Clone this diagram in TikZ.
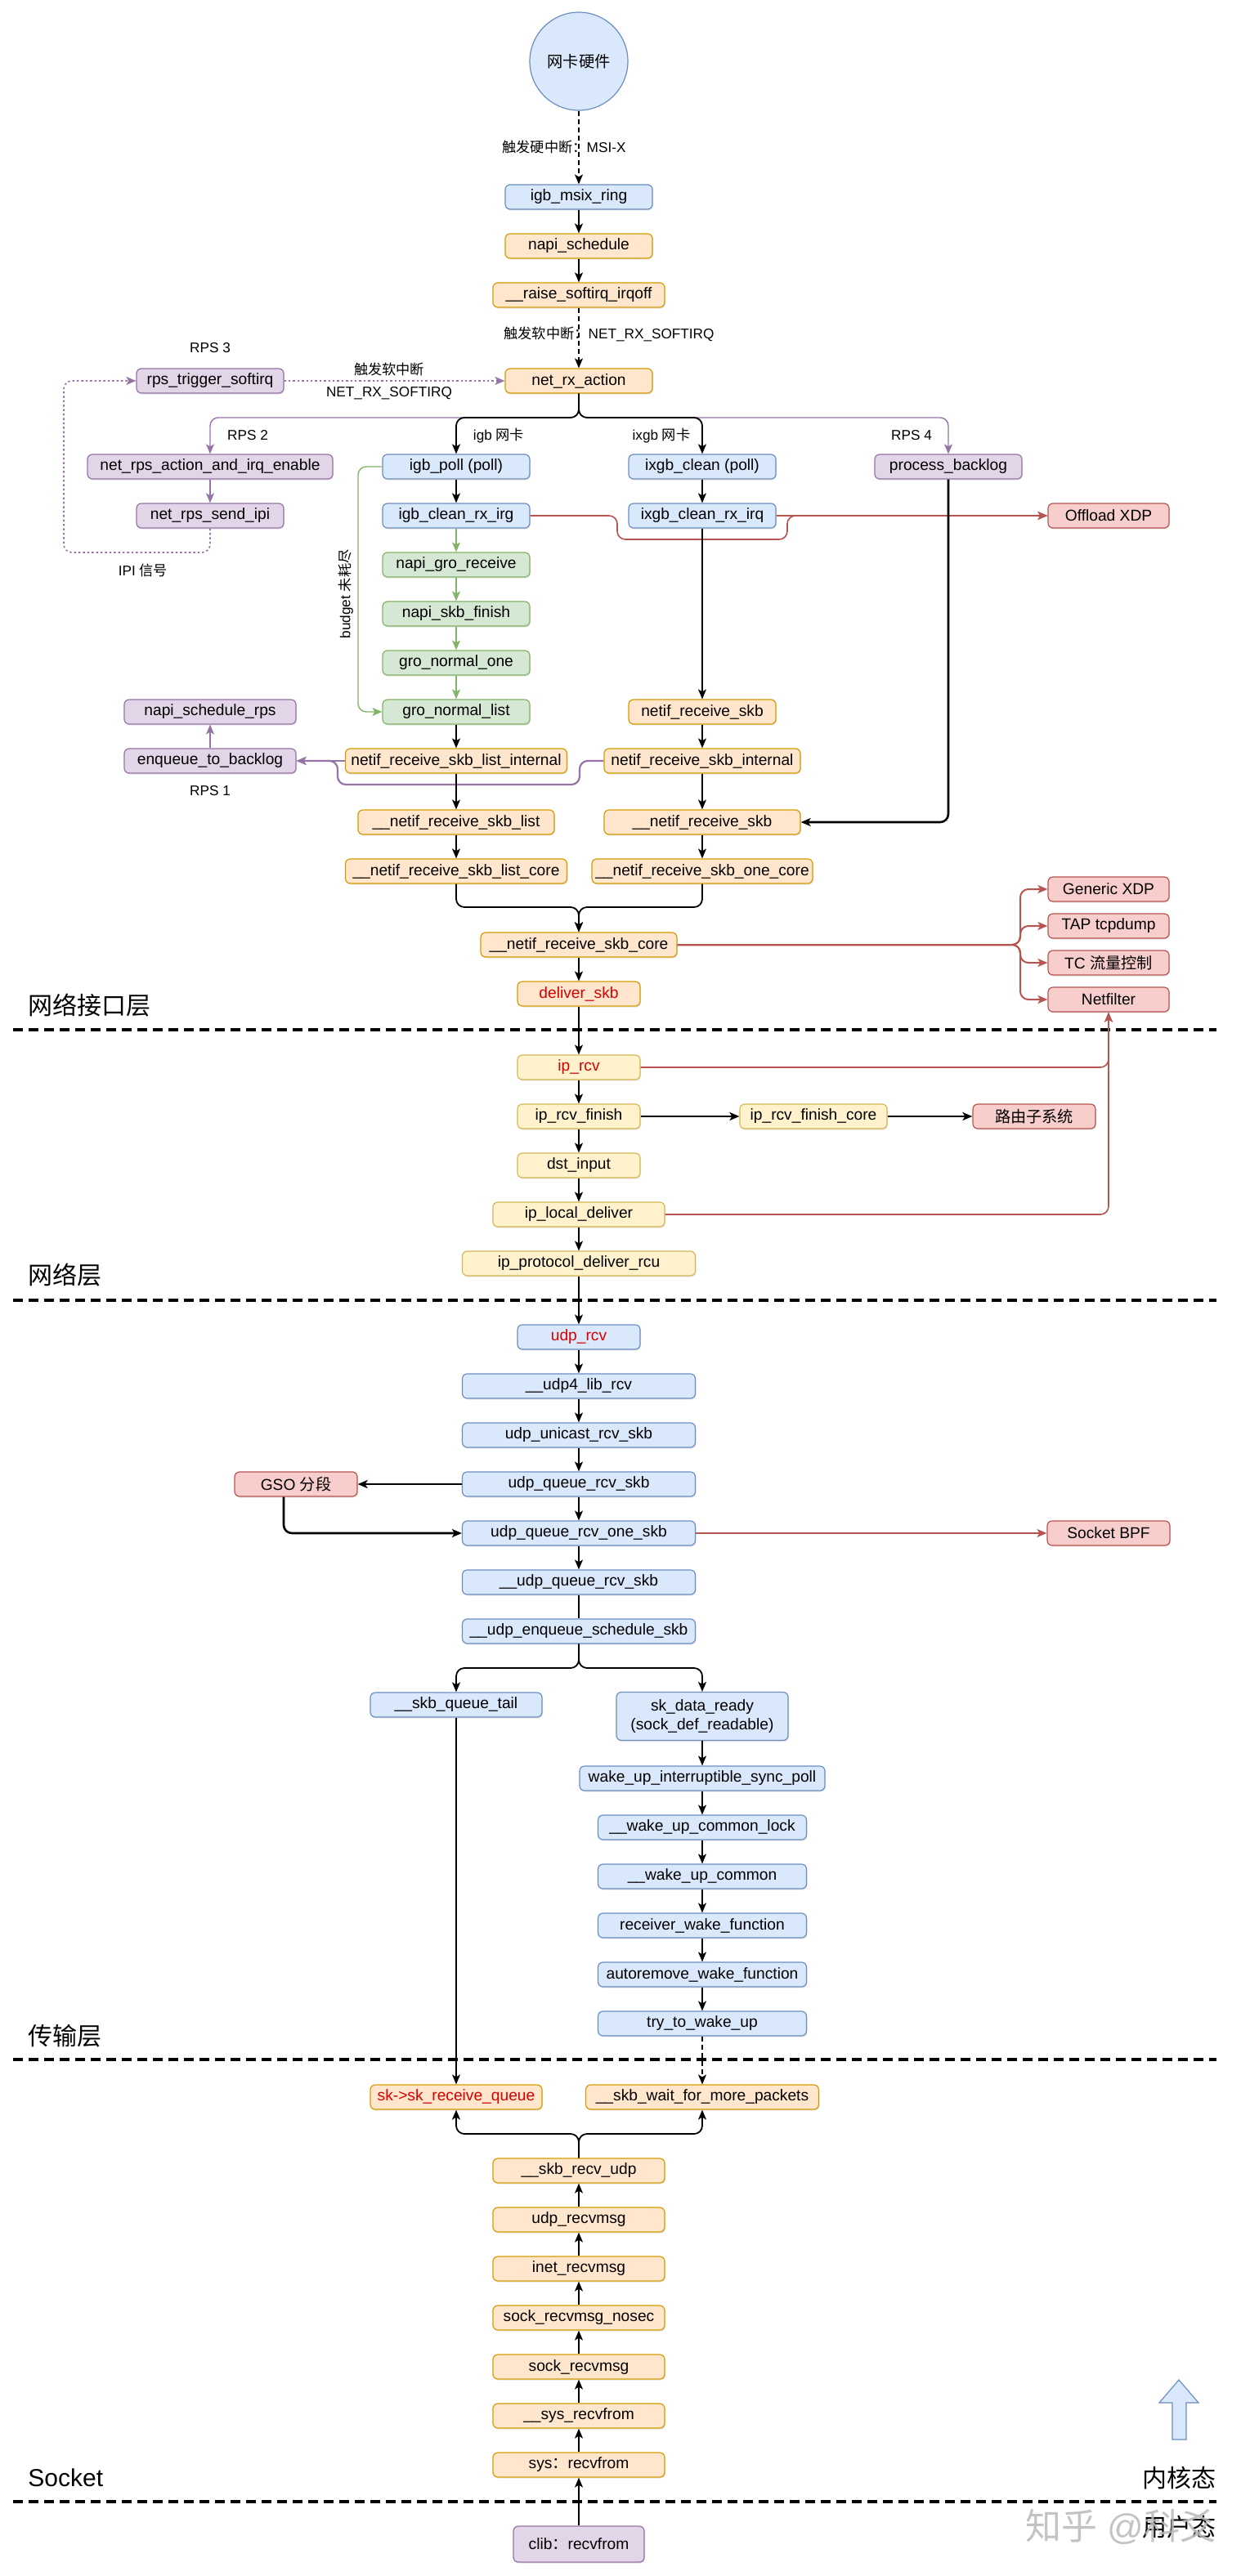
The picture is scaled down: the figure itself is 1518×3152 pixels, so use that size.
\documentclass[tikz,border=0pt]{standalone}
\usepackage{fontspec}
\setmainfont{Liberation Sans}
\newfontfamily\cjk{Noto Sans CJK SC}
\usetikzlibrary{arrows.meta,shadows}
\definecolor{bF}{HTML}{DAE8FC}\definecolor{bD}{HTML}{6C8EBF}
\definecolor{oF}{HTML}{FFE6CC}\definecolor{oD}{HTML}{D79B00}
\definecolor{yF}{HTML}{FFF2CC}\definecolor{yD}{HTML}{D6B656}
\definecolor{gF}{HTML}{D5E8D4}\definecolor{gD}{HTML}{82B366}
\definecolor{pF}{HTML}{E1D5E7}\definecolor{pD}{HTML}{9673A6}
\definecolor{rF}{HTML}{F8CECC}\definecolor{rD}{HTML}{B85450}
\definecolor{rT}{HTML}{D80000}
\begin{document}
\begin{tikzpicture}[x=0.5pt,y=-0.5pt,
  >={Stealth[length=6pt,width=5pt,inset=1.5pt]},
  box/.style={rounded corners=3pt, minimum height=15pt, inner sep=0pt, line width=0.6pt,
    font=\fontsize{9.6}{11.5}\selectfont,
    drop shadow={shadow xshift=0.5pt,shadow yshift=-0.8pt,opacity=0.2}},
  wd/.style={minimum width=#1*0.5pt},
  bl/.style={box, fill=bF, draw=bD},
  or/.style={box, fill=oF, draw=oD},
  ye/.style={box, fill=yF, draw=yD},
  gr/.style={box, fill=gF, draw=gD},
  pu/.style={box, fill=pF, draw=pD},
  rd/.style={box, fill=rF, draw=rD},
  rtxt/.style={text=rT},
  lbl/.style={inner sep=0pt, font=\fontsize{8.6}{10.5}\selectfont, align=center},
  layer/.style={inner sep=0pt, anchor=west, font=\fontsize{15}{18}\selectfont},
  ar/.style={->, line width=0.7pt},
  ln/.style={line width=0.7pt},
  thk/.style={->, line width=1.3pt},
  grn/.style={->, draw=gD, line width=0.7pt},
  pur/.style={->, draw=pD, line width=0.7pt},
  purthk/.style={->, draw=pD, line width=1.1pt},
  redl/.style={->, draw=rD, line width=0.8pt},
  dsh/.style={->, line width=0.6pt, dash pattern=on 3pt off 2pt},
  dotp/.style={->, draw=pD, line width=0.8pt, dash pattern=on 1.2pt off 1.5pt},
  layersep/.style={line width=2pt, dash pattern=on 6pt off 3.5pt}
]
\useasboundingbox[fill=white] (0,0) rectangle (1518,3152);

% ---------------- nodes ----------------
\node[circle, fill=bF, draw=bD, line width=0.6pt, minimum size=60pt, inner sep=0pt,
      font=\fontsize{9.6}{11.5}\selectfont] (hw) at (708,75) {\cjk 网卡硬件};
\node[bl, wd=180] (msix) at (708,241) {igb\_msix\_ring};
\node[or, wd=180] (napisch) at (708,301) {napi\_schedule};
\node[or, wd=210] (raise) at (708,361) {\_\_raise\_softirq\_irqoff};
\node[or, wd=180] (netrx) at (708,466) {net\_rx\_action};
\node[pu, wd=180] (rpstrig) at (257,466) {rps\_trigger\_softirq};
\node[pu, wd=300] (rpsact) at (257,571) {net\_rps\_action\_and\_irq\_enable};
\node[bl, wd=180] (igbpoll) at (558,571) {igb\_poll (poll)};
\node[bl, wd=180] (ixgbclean) at (859,571) {ixgb\_clean (poll)};
\node[pu, wd=180] (backlog) at (1160,571) {process\_backlog};
\node[pu, wd=180] (sendipi) at (257,631) {net\_rps\_send\_ipi};
\node[bl, wd=180] (igbclean) at (558,631) {igb\_clean\_rx\_irg};
\node[bl, wd=180] (ixgbirq) at (859,631) {ixgb\_clean\_rx\_irq};
\node[rd, wd=148] (offload) at (1356,631) {Offload XDP};
\node[gr, wd=180] (grorecv) at (558,691) {napi\_gro\_receive};
\node[gr, wd=180] (skbfin) at (558,751) {napi\_skb\_finish};
\node[gr, wd=180] (groone) at (558,811) {gro\_normal\_one};
\node[gr, wd=180] (grolist) at (558,871) {gro\_normal\_list};
\node[or, wd=180] (nrs) at (859,871) {netif\_receive\_skb};
\node[pu, wd=210] (schrps) at (257,871) {napi\_schedule\_rps};
\node[pu, wd=210] (enq) at (257,931) {enqueue\_to\_backlog};
\node[or, wd=271] (nrsli) at (558,931) {netif\_receive\_skb\_list\_internal};
\node[or, wd=240] (nrsi) at (859,931) {netif\_receive\_skb\_internal};
\node[or, wd=240] (nrsl) at (558,1006) {\_\_netif\_receive\_skb\_list};
\node[or, wd=240] (nrsb) at (859,1006) {\_\_netif\_receive\_skb};
\node[or, wd=271] (nrslc) at (558,1066) {\_\_netif\_receive\_skb\_list\_core};
\node[or, wd=270] (nrsoc) at (859,1066) {\_\_netif\_receive\_skb\_one\_core};
\node[or, wd=240] (core) at (708,1156) {\_\_netif\_receive\_skb\_core};
\node[rd, wd=148] (gxdp) at (1356,1088) {Generic XDP};
\node[rd, wd=148] (tap) at (1356,1133) {TAP tcpdump};
\node[rd, wd=148] (tc) at (1356,1178) {TC {\cjk 流量控制}};
\node[rd, wd=148] (nf) at (1356,1223) {Netfilter};
\node[or, wd=150, rtxt] (deliver) at (708,1216) {deliver\_skb};
\node[ye, wd=150, rtxt] (iprcv) at (708,1306) {ip\_rcv};
\node[ye, wd=150] (iprf) at (708,1366) {ip\_rcv\_finish};
\node[ye, wd=180] (iprfc) at (995,1366) {ip\_rcv\_finish\_core};
\node[rd, wd=150] (route) at (1265,1366) {\cjk 路由子系统};
\node[ye, wd=150] (dst) at (708,1426) {dst\_input};
\node[ye, wd=210] (ild) at (708,1486) {ip\_local\_deliver};
\node[ye, wd=285] (ipd) at (708,1546) {ip\_protocol\_deliver\_rcu};
\node[bl, wd=150, rtxt] (udprcv) at (708,1636) {udp\_rcv};
\node[bl, wd=285] (u4) at (708,1696) {\_\_udp4\_lib\_rcv};
\node[bl, wd=285] (uni) at (708,1756) {udp\_unicast\_rcv\_skb};
\node[bl, wd=285] (uq) at (708,1816) {udp\_queue\_rcv\_skb};
\node[rd, wd=150] (gso) at (362,1816) {GSO {\cjk 分段}};
\node[bl, wd=285] (uqo) at (708,1876) {udp\_queue\_rcv\_one\_skb};
\node[rd, wd=150] (bpf) at (1356,1876) {Socket BPF};
\node[bl, wd=285] (uuq) at (708,1936) {\_\_udp\_queue\_rcv\_skb};
\node[bl, wd=285] (ues) at (708,1996) {\_\_udp\_enqueue\_schedule\_skb};
\node[bl, wd=210] (sqt) at (558,2086) {\_\_skb\_queue\_tail};
\node[bl, wd=210, minimum height=29.5pt, align=center] (sdr) at (859,2100) {sk\_data\_ready\\(sock\_def\_readable)};
\node[bl, wd=300] (wuisp) at (859,2176) {wake\_up\_interruptible\_sync\_poll};
\node[bl, wd=255] (wucl) at (859,2236) {\_\_wake\_up\_common\_lock};
\node[bl, wd=255] (wuc) at (859,2296) {\_\_wake\_up\_common};
\node[bl, wd=255] (rwf) at (859,2356) {receiver\_wake\_function};
\node[bl, wd=255] (awf) at (859,2416) {autoremove\_wake\_function};
\node[bl, wd=255] (ttwu) at (859,2476) {try\_to\_wake\_up};
\node[or, wd=210, rtxt] (skrq) at (558,2566) {sk->sk\_receive\_queue};
\node[or, wd=285] (swfmp) at (859,2566) {\_\_skb\_wait\_for\_more\_packets};
\node[or, wd=210] (sru) at (708,2656) {\_\_skb\_recv\_udp};
\node[or, wd=210] (urm) at (708,2716) {udp\_recvmsg};
\node[or, wd=210] (irm) at (708,2776) {inet\_recvmsg};
\node[or, wd=210] (srmn) at (708,2836) {sock\_recvmsg\_nosec};
\node[or, wd=210] (srm) at (708,2896) {sock\_recvmsg};
\node[or, wd=210] (sysrf) at (708,2956) {\_\_sys\_recvfrom};
\node[or, wd=210] (sysr) at (708,3016) {sys{\cjk ：}recvfrom};
\node[pu, wd=160, minimum height=22pt] (clib) at (708,3113) {clib{\cjk ：}recvfrom};

% ---------------- labels ----------------
\node[lbl] (l1) at (690,180) {{\cjk 触发硬中断：}MSI-X};
\node[lbl] (l2) at (745,409) {{\cjk 触发软中断：}NET\_RX\_SOFTIRQ};
\node[lbl] (l3) at (476,466) {{\cjk 触发软中断}\\[3pt]NET\_RX\_SOFTIRQ};
\node[lbl] (l4) at (257,426) {RPS 3};
\node[lbl] (l5) at (303,533) {RPS 2};
\node[lbl] (l6) at (610,533) {igb {\cjk 网卡}};
\node[lbl] (l7) at (809,533) {ixgb {\cjk 网卡}};
\node[lbl] (l8) at (1115,533) {RPS 4};
\node[lbl] (l9) at (175,698) {IPI {\cjk 信号}};
\node[lbl] (l10) at (257,968) {RPS 1};
\node[lbl, rotate=90] (l11) at (423,727) {budget {\cjk 未耗尽}};

\node[layer] (L1) at (34,1230) {\cjk 网络接口层};
\node[layer] (L2) at (34,1560) {\cjk 网络层};
\node[layer] (L3) at (34,2491) {\cjk 传输层};
\node[layer] (L4) at (34,3032) {Socket};
\node[layer, anchor=east] (L5) at (1488,3032) {\cjk 内核态};
\node[layer, anchor=east] (L6) at (1488,3092) {\cjk 用户态};

% layer separators
\coordinate (s1a) at (16,1260); \coordinate (s1b) at (1488,1260);
\coordinate (s2a) at (16,1591); \coordinate (s2b) at (1488,1591);
\coordinate (s3a) at (16,2520); \coordinate (s3b) at (1488,2520);
\coordinate (s4a) at (16,3061); \coordinate (s4b) at (1488,3061);
\draw[layersep] (s1a) -- (s1b);
\draw[layersep] (s2a) -- (s2b);
\draw[layersep] (s3a) -- (s3b);
\draw[layersep] (s4a) -- (s4b);

% kernel-mode block arrow
\draw[fill=bF, draw=bD, line width=0.6pt] (1434,2985) -- (1434,2940) -- (1418,2940) -- (1442,2912)
  -- (1466,2940) -- (1451,2940) -- (1451,2985) -- cycle;

% ---------------- connectors ----------------
\draw[dsh] (hw.south) -- (msix.north);
\draw[ar] (msix) -- (napisch);
\draw[ar] (napisch) -- (raise);
\draw[dsh] (raise) -- (netrx);
\draw[dotp] (rpstrig) -- (netrx);

\draw[pur, rounded corners=5pt] (netrx.south) -- (708,511) -- (257,511) -- (rpsact.north);
\draw[pur, rounded corners=5pt] (netrx.south) -- (708,511) -- (1160,511) -- (backlog.north);
\draw[ar, line width=0.9pt, rounded corners=5pt] (netrx.south) -- (708,511) -- (558,511) -- (igbpoll.north);
\draw[ar, line width=0.9pt, rounded corners=5pt] (netrx.south) -- (708,511) -- (859,511) -- (ixgbclean.north);

\draw[pur] (rpsact) -- (sendipi);
\draw[dotp, rounded corners=5pt] (sendipi.south) -- (257,676) -- (78,676) -- (78,466) -- (rpstrig.west);

\draw[ar] (igbpoll) -- (igbclean);
\draw[ar] (ixgbclean) -- (ixgbirq);
\draw[redl, rounded corners=5pt] (igbclean.east) -- (755,631) -- (755,660) -- (963,660) -- (963,631) -- (offload.west);
\draw[redl] (ixgbirq) -- (offload);

\draw[grn] (igbclean) -- (grorecv);
\draw[grn] (grorecv) -- (skbfin);
\draw[grn] (skbfin) -- (groone);
\draw[grn] (groone) -- (grolist);
\draw[grn, rounded corners=5pt] (igbpoll.west) -- (438,571) -- (438,871) -- (grolist.west);

\draw[ar] (ixgbirq) -- (nrs);
\draw[ar] (grolist) -- (nrsli);
\draw[ar] (nrs) -- (nrsi);
\draw[pur] (enq) -- (schrps);
\draw[purthk] (nrsli.west) -- (enq.east);
\draw[purthk, rounded corners=5pt] (nrsi.west) -- (709,931) -- (709,960) -- (413,960) -- (413,931) -- (enq.east);

\draw[ar] (nrsli) -- (nrsl);
\draw[ar] (nrsi) -- (nrsb);
\draw[thk, rounded corners=5pt] (backlog.south) |- (nrsb.east);
\draw[ar] (nrsl) -- (nrslc);
\draw[ar] (nrsb) -- (nrsoc);
\draw[ar, line width=0.9pt, rounded corners=5pt] (nrslc.south) -- (558,1110) -- (708,1110) -- (core.north);
\draw[ar, line width=0.9pt, rounded corners=5pt] (nrsoc.south) -- (859,1110) -- (708,1110) -- (core.north);

\foreach \t in {gxdp,tap,tc,nf}
  \draw[redl, line width=1pt, rounded corners=5pt] (core.east) -- (1248,1156) |- (\t.west);

\draw[ar] (core) -- (deliver);
\draw[ar] (deliver) -- (iprcv);
\draw[redl, rounded corners=5pt] (iprcv.east) -| (nf.south);
\draw[redl, rounded corners=5pt] (ild.east) -| (nf.south);
\draw[ar] (iprcv) -- (iprf);
\draw[thk] (iprf) -- (iprfc);
\draw[thk] (iprfc) -- (route);
\draw[ar] (iprf) -- (dst);
\draw[ar] (dst) -- (ild);
\draw[ar] (ild) -- (ipd);
\draw[ar] (ipd) -- (udprcv);
\draw[ar] (udprcv) -- (u4);
\draw[ar] (u4) -- (uni);
\draw[ar] (uni) -- (uq);
\draw[thk] (uq) -- (gso);
\draw[ar] (uq) -- (uqo);
\coordinate (gsob) at ([xshift=-7.5pt]gso.south);
\draw[thk, rounded corners=5pt] (gsob) |- (uqo.west);
\draw[redl] (uqo) -- (bpf);
\draw[ar] (uqo) -- (uuq);
\draw[ln] (uuq) -- (ues);
\draw[ar, line width=0.9pt, rounded corners=5pt] (ues.south) -- (708,2041) -- (558,2041) -- (sqt.north);
\draw[ar, line width=0.9pt, rounded corners=5pt] (ues.south) -- (708,2041) -- (859,2041) -- (sdr.north);
\draw[ar] (sqt) -- (skrq);
\draw[ar] (sdr) -- (wuisp);
\draw[ar] (wuisp) -- (wucl);
\draw[ar] (wucl) -- (wuc);
\draw[ar] (wuc) -- (rwf);
\draw[ar] (rwf) -- (awf);
\draw[ar] (awf) -- (ttwu);
\draw[dsh] (ttwu) -- (swfmp);
\draw[ar, line width=0.9pt, rounded corners=5pt] (sru.north) -- (708,2611) -- (558,2611) -- (skrq.south);
\draw[ar, line width=0.9pt, rounded corners=5pt] (sru.north) -- (708,2611) -- (859,2611) -- (swfmp.south);
\draw[ar] (urm) -- (sru);
\draw[ar] (irm) -- (urm);
\draw[ar] (srmn) -- (irm);
\draw[ar] (srm) -- (srmn);
\draw[ar] (sysrf) -- (srm);
\draw[ar] (sysr) -- (sysrf);
\draw[ar] (clib) -- (sysr);

% watermark
\node[inner sep=0pt, anchor=east, text=gray!55, text opacity=0.85,
      font=\fontsize{22}{26}\selectfont] (wm) at (1488,3092) {{\cjk 知乎} @{\cjk 科爻}};
\end{tikzpicture}
\end{document}
